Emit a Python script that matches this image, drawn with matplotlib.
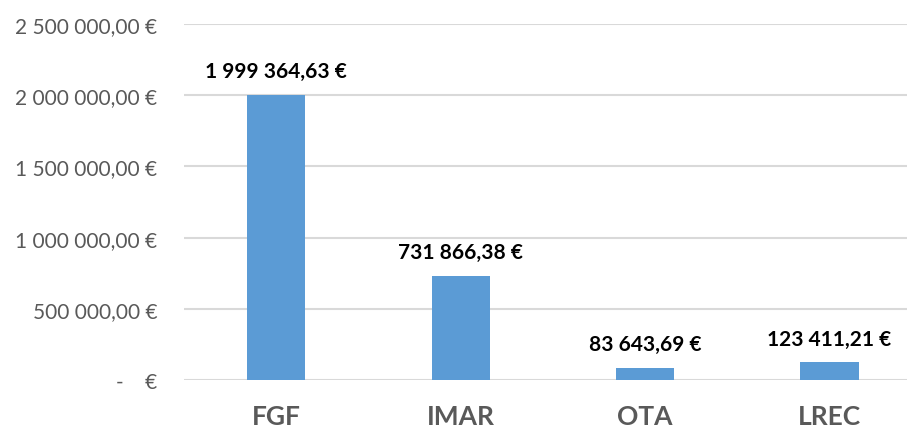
import matplotlib
matplotlib.use('Agg')
import matplotlib.pyplot as plt
from matplotlib.ticker import FuncFormatter

# data
categories = ['FGF', 'IMAR', 'OTA', 'LREC']
amounts = [1999364.63, 731866.38, 83643.69, 123411.21]
y_ticks = [0, 500000, 1000000, 1500000, 2000000, 2500000]

plt.rcParams['font.family'] = ['Lato', 'DejaVu Sans']


def euro(v):
    # french style: space thousands, comma decimals
    s = f"{v:,.2f}".replace(",", " ").replace(".", ",")
    return s + " €"


def tick_fmt(v, pos):
    if v == 0:
        return "-    €"
    return euro(v)


fig = plt.figure(figsize=(9.07, 4.35), dpi=100)
ax = fig.add_axes([184 / 907, 54 / 435, 723 / 907, 356 / 435])

x = range(len(categories))
bars = ax.bar(x, amounts, width=0.315, color='#5B9BD5', zorder=3)

ax.set_ylim(0, 2500000)
ax.set_xlim(-0.5, 3.42)
ax.set_yticks(y_ticks)
ax.yaxis.set_major_formatter(FuncFormatter(tick_fmt))
ax.grid(axis='y', color='#D9D9D9', linewidth=1.5, zorder=0)
ax.set_axisbelow(True)

for s in ax.spines.values():
    s.set_visible(False)
ax.tick_params(axis='y', length=0, pad=19, labelsize=15, labelcolor='#595959')
ax.tick_params(axis='x', length=0, pad=17, labelsize=19, labelcolor='#595959')
ax.set_xticks(list(x))
ax.set_xticklabels(categories, fontweight='bold')

for b, v in zip(bars, amounts):
    ax.annotate(euro(v), (b.get_x() + b.get_width() / 2, v),
                xytext=(0, 10), textcoords='offset points',
                ha='center', va='bottom', fontsize=15, fontweight='bold',
                color='black')

plt.savefig('out.png', dpi=100)
plt.close()
